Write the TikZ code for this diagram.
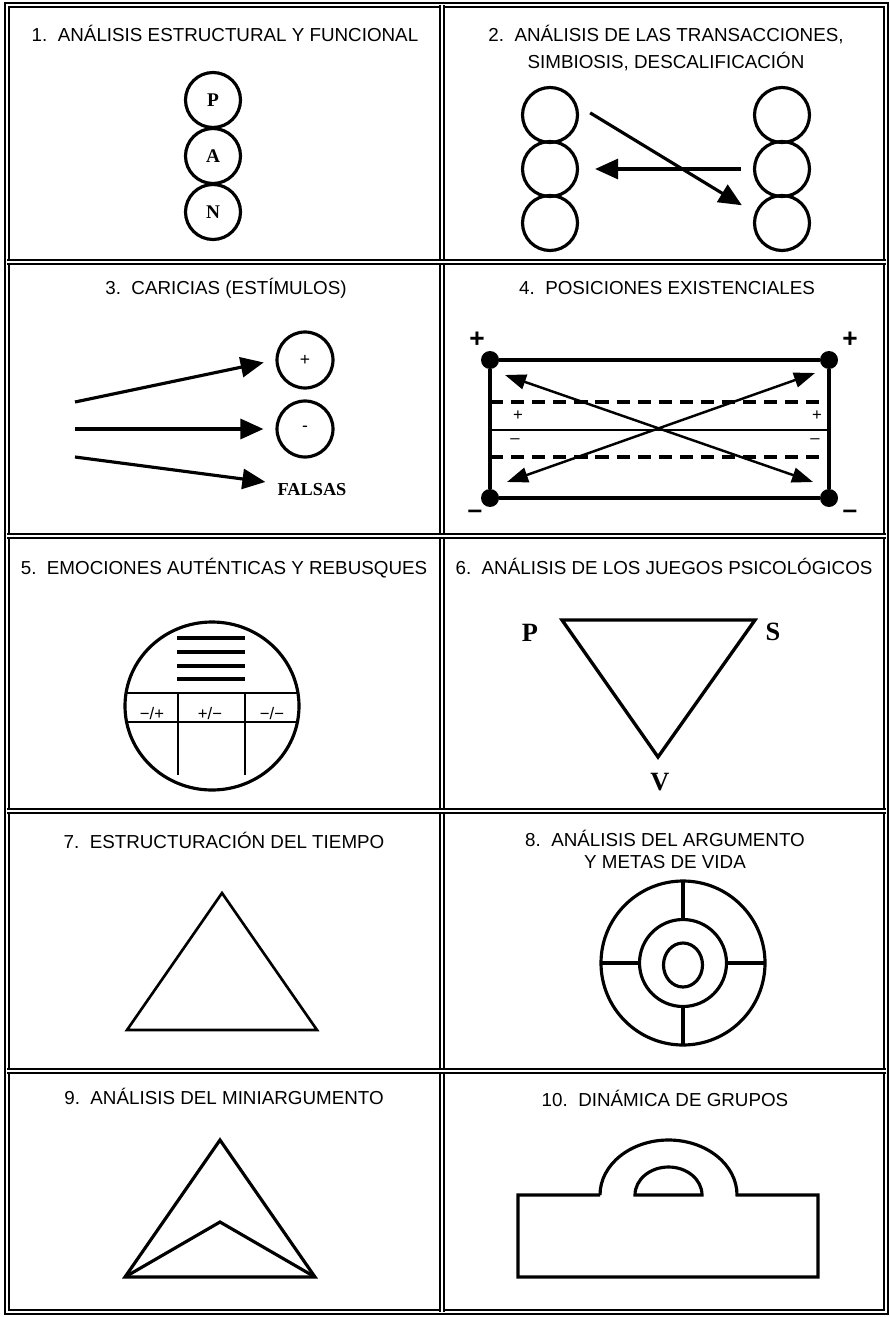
\documentclass[tikz,border=0pt]{standalone}
\usepackage{fontspec}
\setmainfont{Liberation Serif}
\setsansfont{Liberation Sans}
\usetikzlibrary{arrows.meta,positioning,calc}

\begin{document}
\begin{tikzpicture}[x=.02cm,y=-.02cm,
  ttl/.style={font=\sffamily\fontsize{10.7}{13}\selectfont,anchor=base,inner sep=0pt},
  ring/.style={circle,draw,line width=1.8pt,inner sep=0pt,minimum size=1.1cm,font=\bfseries\fontsize{11}{12}\selectfont},
  ringsm/.style={ring,minimum size=1.12cm,font=\sffamily\fontsize{10}{12}\selectfont},
  bold/.style={font=\bfseries\fontsize{10.4}{12}\selectfont,inner sep=0pt},
  big/.style={font=\bfseries\fontsize{15}{17}\selectfont,inner sep=0pt},
  sign/.style={font=\sffamily\bfseries\fontsize{15}{16}\selectfont,inner sep=0pt},
  lab/.style={font=\sffamily\fontsize{9.5}{11}\selectfont,inner sep=0pt,anchor=base},
  dot/.style={circle,fill,inner sep=0pt,minimum size=.36cm},
  ln/.style={line width=1.8pt,line join=miter},
  arr/.style={line width=1.8pt,-{Triangle[length=.46cm,width=.4cm]}},
  dbl/.style={line width=1.4pt,{Triangle[length=.42cm,width=.3cm]}-{Triangle[length=.42cm,width=.3cm]}},
  gridline/.style={double,double distance=1.6pt,line width=.8pt}]
\useasboundingbox (0,0) rectangle (889,1317);
\draw[gridline] (7,5) rectangle (886,1312);
\draw[gridline] (442,5)--(442,1312);
\foreach \y in {262,536,811,1071}{\draw[gridline] (7,\y)--(886,\y);}
% 1
\node[ttl] (t1) at (225,41.5) {1.\ \ ANÁLISIS ESTRUCTURAL Y FUNCIONAL};
\node[ring] (padre) at (213,100) {P};
\node[ring] (adulto) at (213,156) {A};
\node[ring] (nino) at (213,212) {N};
% 2
\node[ttl] (t2a) at (666,41.5) {2.\ \ ANÁLISIS DE LAS TRANSACCIONES,};
\node[ttl] (t2b) at (666,68.5) {SIMBIOSIS, DESCALIFICACIÓN};
\foreach \i/\y in {1/115,2/169,3/223}{\node[ring] (l\i) at (550,\y) {}; \node[ring] (r\i) at (782,\y) {};}
\draw[arr,shorten <=.3cm,shorten >=.3cm] (l1.20)--(r3.160);
\draw[arr,shorten <=.24cm,shorten >=.32cm] (r2.west)--(l2.east);
% 3
\node[ttl] (t3) at (226,294.5) {3.\ \ CARICIAS (ESTÍMULOS)};
\node[ringsm] (pos) at (305,360) {+};
\node[ringsm] (neg) at (305,429) {-};
\node[bold] (fal) at (312,490) {FALSAS};
\coordinate (s1) at (75,402); \coordinate (s2) at (75,429); \coordinate (s3) at (75,457);
\draw[arr,shorten >=.24cm] (s1)--(pos.west);
\draw[arr,shorten >=.24cm] (s2)--(neg.west);
\draw[arr,shorten >=.24cm] (s3)--(fal.north west);
% 4
\node[ttl] (t4) at (667,294.5) {4.\ \ POSICIONES EXISTENCIALES};
\node[dot] (tl) at (490,360) {}; \node[dot] (tr) at (829,360) {};
\node[dot] (bl) at (490,498) {}; \node[dot] (br) at (829,498) {};
\draw[ln] (tl)--(tr)--(br)--(bl)--(tl);
\draw[line width=1.8pt,dash pattern=on 7.5pt off 4.5pt] (490,402)--(829,402) (490,457)--(829,457);
\draw[line width=1.1pt] (490,430)--(829,430);
\node[sign] (ptl) at (477,340) {+}; \node[sign] (ptr) at (850,340) {+};
\node[sign] (mbl) at (475,514) {–}; \node[sign] (mbr) at (850,514) {–};
\node[lab] (sp1) at (518,420) {+}; \node[lab] (sp2) at (817,420) {+};
\node[lab] (sm1) at (515,443) {–}; \node[lab] (sm2) at (815,443) {–};
\coordinate (a1) at (505,375); \coordinate (a2) at (813,482);
\coordinate (a3) at (507,482); \coordinate (a4) at (815,373);
\draw[dbl] (a1)--(a2); \draw[dbl] (a3)--(a4);
% 5
\node[ttl] (t5) at (224,574.5) {5.\ \ EMOCIONES AUTÉNTICAS Y REBUSQUES};
\coordinate (c5) at (212,706);
\draw[ln] (c5) circle[x radius=87,y radius=84];
\begin{scope}
\clip (c5) circle[x radius=87,y radius=84];
\draw[line width=1.4pt] (100,693)--(320,693) (100,722)--(320,722);
\end{scope}
\draw[line width=1.4pt] (178,693)--(178,775) (245,693)--(245,775);
\foreach \y in {638,652,666,679}{\draw[line width=2pt] (177,\y)--(245,\y);}
\node[lab] (e1) at (152,719) {−/+};
\node[lab] (e2) at (210,719) {+/−};
\node[lab] (e3) at (272,719) {−/−};
% 6
\node[ttl] (t6) at (664,574.5) {6.\ \ ANÁLISIS DE LOS JUEGOS PSICOLÓGICOS};
\coordinate (g1) at (562,620); \coordinate (g2) at (755,620); \coordinate (g3) at (658,757);
\draw[ln,line width=1.9pt] (g1)--(g2)--(g3)--cycle;
\node[big] (gp) at (530,633) {P};
\node[big] (gs) at (773,632) {S};
\node[big] (gv) at (660,782) {V};
% 7
\node[ttl] (t7) at (224,848.5) {7.\ \ ESTRUCTURACIÓN DEL TIEMPO};
\draw[line width=1.5pt,line join=miter] (222,893)--(317,1030)--(127,1030)--cycle;
% 8
\node[ttl] (t8a) at (665,846.5) {8.\ \ ANÁLISIS DEL ARGUMENTO};
\node[ttl] (t8b) at (665,868.5) {Y METAS DE VIDA};
\coordinate (c8) at (683,963);
\draw[ln] (c8) circle[radius=82] (c8) circle[radius=43.5] (683,965) circle[x radius=19.5,y radius=22];
\foreach \a in {0,90,180,270}{\draw[ln] ($(c8)+(\a:43.5)$)--($(c8)+(\a:82)$);}
% 9
\node[ttl] (t9) at (224,1104.5) {9.\ \ ANÁLISIS DEL MINIARGUMENTO};
\draw[ln] (220,1140)--(315,1277)--(125,1277)--cycle;
\draw[ln] (125,1277)--(220,1222)--(315,1277);
% 10
\node[ttl] (t10) at (665,1106.5) {10.\ \ DINÁMICA DE GRUPOS};
\draw[ln] (600,1195)--(518,1195)--(518,1277)--(818,1277)--(818,1195)--(737,1195) arc[start angle=0,end angle=-180,x radius=68.5,y radius=55];
\draw[ln] (635,1195) arc[start angle=180,end angle=360,x radius=33.5,y radius=28]--cycle;
\end{tikzpicture}
\end{document}
